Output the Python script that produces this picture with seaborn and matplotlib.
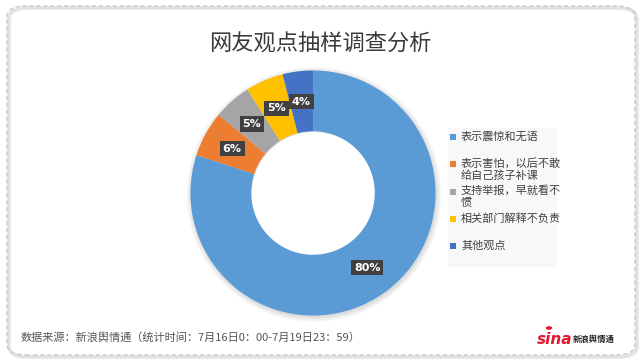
import matplotlib
matplotlib.use("Agg")
import matplotlib.pyplot as plt
import seaborn as sns
from matplotlib.patches import FancyBboxPatch, Rectangle, Circle

# --- DATA ---
categories = ["表示震惊和无语", "表示害怕，以后不敢\n给自己孩子补课", "支持举报，早就看不\n惯",
              "相关部门解释不负责", "其他观点"]
shares = [80, 6, 5, 5, 4]
colors = ["#5B9BD5", "#ED7D31", "#A5A5A5", "#FFC000", "#4472C4"]
title = "网友观点抽样调查分析"
source = "数据来源：新浪舆情通（统计时间：7月16日0：00-7月19日23：59）"

sns.set_theme(style="white")
plt.rcParams['font.family'] = ['Noto Sans CJK SC', 'DejaVu Sans']

W, H = 641, 361
fig = plt.figure(figsize=(W / 100, H / 100), dpi=100)
fig.patch.set_facecolor("white")

# --- card border ---
for off, a in [(2.5, 0.05), (1.5, 0.07)]:
    fig.patches.append(FancyBboxPatch((7 / W + off / W, 6 / H - off / H), 628 / W, 349 / H,
                                      boxstyle="round,pad=0,rounding_size=0.03",
                                      transform=fig.transFigure, facecolor="none",
                                      edgecolor=(0, 0, 0, a), lw=2.5, zorder=-2))
fig.patches.append(FancyBboxPatch((7 / W, 6 / H), 628 / W, 349 / H,
                                  boxstyle="round,pad=0,rounding_size=0.03",
                                  transform=fig.transFigure, facecolor="none",
                                  edgecolor="#c9c9c9", lw=1.0, ls=(0, (3, 2)), zorder=-1))

fig.text(320 / W, 1 - 44 / H, title, ha="center", va="center", fontsize=16, color="#3a3a3a")

# --- donut ---
cx, cy, r = 313, 193, 125
ax = fig.add_axes([(cx - r) / W, (H - cy - r) / H, 2 * r / W, 2 * r / H])
ax.axis("off")
ax.patch.set_alpha(0)

# soft shadow (outside the ring only)
for k in range(6):
    ax.pie([1], radius=1.0 + 0.008 * k, colors=[(0, 0, 0, 0.022)], startangle=90,
           center=(0.008, -0.012), wedgeprops=dict(width=0.49 + 0.008 * k, lw=0))

wedges, texts, autotexts = ax.pie(
    shares, colors=colors, startangle=90, counterclock=False, radius=1.0,
    wedgeprops=dict(width=0.496, edgecolor="none"),
    autopct=lambda p: f"{p:.0f}%", pctdistance=0.752,
    textprops=dict(color="white", fontsize=8, fontweight="bold", family=["DejaVu Sans"]))
for t in autotexts:
    t.set_bbox(dict(boxstyle="square,pad=0.25", facecolor="#404040", edgecolor="none"))
ax.set_xlim(-1.02, 1.02)
ax.set_ylim(-1.02, 1.02)
ax.set_aspect("equal")

# --- legend ---
fig.patches.append(Rectangle((448 / W, 1 - 267 / H), 109 / W, 139 / H, transform=fig.transFigure,
                             facecolor="#f8f8f8", edgecolor="none", zorder=1))
for i, (lab, c) in enumerate(zip(categories, colors)):
    y = 137 + i * 27.3
    fig.patches.append(Rectangle((450 / W, 1 - (y + 3) / H), 6 / W, 6 / H, transform=fig.transFigure,
                                 facecolor=c, edgecolor="none", zorder=2))
    fig.text(461 / W, 1 - (y - 6) / H, lab, ha="left", va="top", fontsize=8,
             color="#404040", linespacing=1.15, zorder=3)

# --- footer ---
fig.text(21 / W, 1 - 337 / H, source, ha="left", va="center", fontsize=8, color="#555555")
fig.text(537 / W, 1 - 339 / H, "sina", ha="left", va="center", fontsize=11, color="#e6162d",
         fontweight="bold", style="italic", family=["DejaVu Sans"])
fig.text(573 / W, 1 - 339 / H, "新浪舆情通", ha="left", va="center", fontsize=6,
         color="#222222", fontweight="bold")
fig.patches.append(Circle((549 / W, 1 - 328 / H), 3.2 / W, transform=fig.transFigure,
                          facecolor="#e6162d", edgecolor="none", zorder=3))

fig.savefig("out.png", dpi=100)
